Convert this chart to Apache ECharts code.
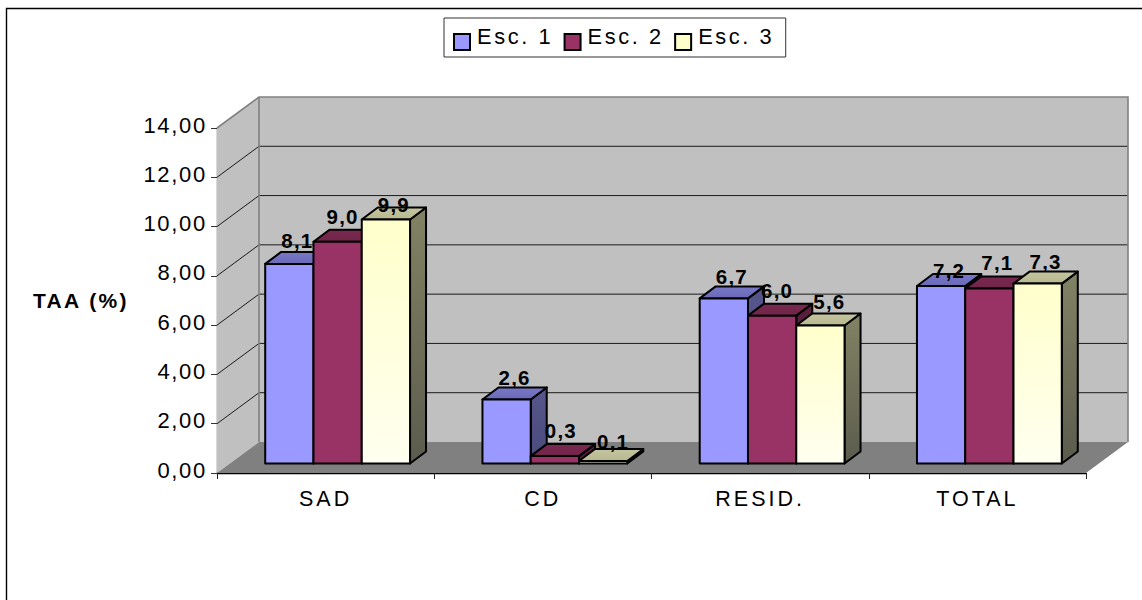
<!DOCTYPE html>
<html>
<head>
<meta charset="utf-8">
<style>
  html, body { margin: 0; padding: 0; background: #fff; }
  #chart { width: 1142px; height: 600px; }
  #chart text { letter-spacing: 1.7px; }
  #chart text[style*="21.5px"] { letter-spacing: 3px; }
  #chart text[style*="21.8px"] { letter-spacing: 2.6px; }
  #chart text[style*="bold"] { letter-spacing: 1.2px; }
  #chart text[style*="21px"], #chart text[font-size="21"], #chart text[style*="font-size:21"] { letter-spacing: 2.4px; }
</style>
</head>
<body>
<div id="chart"></div>
<script src="https://cdn.jsdelivr.net/npm/echarts@6/dist/echarts.min.js"></script>
<script>
const categories = ['SAD', 'CD', 'RESID.', 'TOTAL'];
const esc1 = [8.1, 2.6, 6.7, 7.2];
const esc2 = [9.0, 0.3, 6.0, 7.1];
const esc3 = [9.9, 0.1, 5.6, 7.3];
const valueTicks = [0, 2, 4, 6, 8, 10, 12, 14];

// Oblique projection of the box: wall depth, bar depth and the plane the bars stand on
const WALL = [42, -31];
const BAR_DEPTH = [16, -12];
const BAR_PLANE = [12, -9.5];
const BAR_RATIO = 1 / 4.5;

const palette = [
  { front: ['#9999ff', '#9999ff'], top: ['#7878c8', '#6a6ab8'], side: ['#56568c', '#4a4a7c'], labelOffset: [8, -22] },
  { front: ['#993366', '#993366'], top: ['#7a2950', '#702548'], side: ['#5a1f3d', '#4d1a33'], labelOffset: [5, -25] },
  { front: ['#ffffcc', '#fffff0'], top: ['#c4c4a0', '#b8b890'], side: ['#828264', '#5c5c4e'], labelOffset: [9, -22] }
];

// Small per-label shifts that keep the value labels clear of neighbouring bars
const labelNudge = [
  [[0, -1], [0, 0], [0, 0], [0, 6]],
  [[0, 0], [1, -1], [0, 0], [3, -1]],
  [[-1, 7], [1, 2], [0, -2], [-1, 0]]
];

const vGrad = (c) => new echarts.graphic.LinearGradient(0, 0, 0, 1, [
  { offset: 0, color: c[0] }, { offset: 1, color: c[1] }
]);

// Back wall, side wall, floor and the gridlines running across the walls
function renderWalls(params, api) {
  const cs = params.coordSys;
  const v = api.value(1);
  const y = api.coord([0, v])[1];
  const xL = cs.x, xR = cs.x + cs.width, yB = cs.y + cs.height, yT = cs.y;
  const [dx, dy] = WALL;
  const children = [];
  if (params.dataIndex === 0) {
    children.push(
      { type: 'rect', shape: { x: xL + dx, y: yT + dy, width: cs.width, height: cs.height }, style: { fill: '#c0c0c0' }, z2: 0 },
      { type: 'polygon', shape: { points: [[xL, yB], [xL + dx, yB + dy], [xL + dx, yT + dy], [xL, yT]] }, style: { fill: '#c0c0c0' }, z2: 0 },
      { type: 'polygon', shape: { points: [[xL, yB], [xR, yB], [xR + dx, yB + dy], [xL + dx, yB + dy]] }, style: { fill: '#808080' }, z2: 0 },
      { type: 'polyline', shape: { points: [[xL, yT], [xL + dx, yT + dy], [xR + dx, yT + dy], [xR + dx, yB + dy]] }, style: { fill: 'none', stroke: '#808080', lineWidth: 1.6 }, z2: 2 },
      { type: 'line', shape: { x1: xL + dx, y1: yT + dy, x2: xL + dx, y2: yB + dy }, style: { stroke: '#808080', lineWidth: 1.6 }, z2: 2 }
    );
  } else if (v < 14) {
    children.push({
      type: 'polyline',
      shape: { points: [[xL, y], [xL + dx, y + dy], [xR + dx, y + dy]] },
      style: { fill: 'none', stroke: '#1a1a1a', lineWidth: 1 },
      z2: 1
    });
  }
  return { type: 'group', children };
}

// One 3D column: side and top faces behind the front face, value label above
function makeBarRenderer(seriesIndex) {
  const colors = palette[seriesIndex];
  return function (params, api) {
    const idx = api.value(0);
    const val = api.value(1);
    const catW = api.size([1, 0])[0];
    const barW = catW * BAR_RATIO;
    const base = api.coord([idx, 0]);
    const top = api.coord([idx, val]);
    const x0 = base[0] - 1.5 * barW + seriesIndex * barW + BAR_PLANE[0];
    const x1 = x0 + barW;
    const yB = base[1] + BAR_PLANE[1];
    const yT = top[1] + BAR_PLANE[1];
    const [dx, dy] = BAR_DEPTH;
    const edge = { stroke: '#000', lineWidth: 2, lineJoin: 'round' };
    const nudge = labelNudge[seriesIndex][params.dataIndex];
    return {
      type: 'group',
      children: [
        { type: 'polygon', z2: 3, shape: { points: [[x1, yB], [x1 + dx, yB + dy], [x1 + dx, yT + dy], [x1, yT]] },
          style: Object.assign({ fill: vGrad(colors.side) }, edge) },
        { type: 'polygon', z2: 3, shape: { points: [[x0, yT], [x1, yT], [x1 + dx, yT + dy], [x0 + dx, yT + dy]] },
          style: Object.assign({ fill: vGrad(colors.top) }, edge) },
        { type: 'rect', z2: 3, shape: { x: x0, y: yT, width: barW, height: yB - yT },
          style: Object.assign({ fill: vGrad(colors.front) }, edge) },
        { type: 'text', z2: 20,
          x: (x0 + x1) / 2 + colors.labelOffset[0] + nudge[0], y: yT + colors.labelOffset[1] + nudge[1],
          style: {
            text: val.toFixed(1).replace('.', ','),
            fill: '#000', font: 'bold 20.5px "Liberation Sans", Arial, sans-serif',
            textAlign: 'center', textVerticalAlign: 'middle'
          } }
      ]
    };
  };
}

const barSeries = [esc1, esc2, esc3].map((vals, i) => ({
  type: 'custom',
  name: 'Esc. ' + (i + 1),
  coordinateSystem: 'cartesian2d',
  renderItem: makeBarRenderer(i),
  encode: { x: 0, y: 1 },
  itemStyle: { color: palette[i].front[0], borderColor: '#000', borderWidth: 1.7 },
  data: vals.map((v, k) => [k, v]),
  z: 3,
  silent: true
}));

const chart = echarts.init(document.getElementById('chart'), null, { renderer: 'svg' });
chart.setOption({
  animation: false,
  backgroundColor: '#fff',
  textStyle: { fontFamily: '"Liberation Sans", Arial, sans-serif', color: '#000' },
  grid: { left: 217, top: 128, width: 869, height: 345 },
  graphic: [{
    type: 'polyline', silent: true, z: -1,
    shape: { points: [[6.5, 600], [6.5, 8.5], [1142, 8.5]] },
    style: { fill: 'none', stroke: '#000', lineWidth: 1.4 }
  }],
  legend: {
    left: 444, top: 18,
    data: barSeries.map(s => s.name),
    itemWidth: 16, itemHeight: 16, itemGap: 26,
    icon: 'rect',
    padding: [7, 27, 6, 9],
    borderColor: '#333', borderWidth: 1,
    backgroundColor: '#fff',
    selectedMode: false,
    formatter: name => '{t|' + name + '}',
    textStyle: {
      color: '#000',
      rich: { t: { fontSize: 21.8, color: '#000', padding: [0, 0, 12, 2] } }
    }
  },
  xAxis: {
    type: 'category',
    data: categories,
    axisLine: { lineStyle: { color: '#000', width: 1.4 } },
    axisTick: { show: true, length: 6, lineStyle: { color: '#222' } },
    axisLabel: { fontSize: 21.5, color: '#000', margin: 15 },
    splitLine: { show: false }
  },
  yAxis: {
    type: 'value',
    min: 0, max: 14, interval: 2,
    name: 'TAA (%)',
    nameLocation: 'middle',
    nameRotate: 0,
    nameGap: 88,
    nameTextStyle: { fontSize: 21, fontWeight: 'bold', color: '#000' },
    axisLine: { show: true, lineStyle: { color: '#444', width: 1.4 } },
    axisTick: { show: true, length: 6, lineStyle: { color: '#333' } },
    axisLabel: {
      color: '#000', margin: 10,
      formatter: v => '{n|' + v.toFixed(2).replace('.', ',') + '}',
      rich: { n: { fontSize: 22, color: '#000', padding: [0, 0, 6, 0] } }
    },
    splitLine: { show: false }
  },
  series: [{
    type: 'custom',
    name: 'paredes',
    coordinateSystem: 'cartesian2d',
    renderItem: renderWalls,
    encode: { x: 0, y: 1 },
    data: valueTicks.map(v => [0, v]),
    z: 1,
    silent: true
  }].concat(barSeries)
});
</script>
</body>
</html>
